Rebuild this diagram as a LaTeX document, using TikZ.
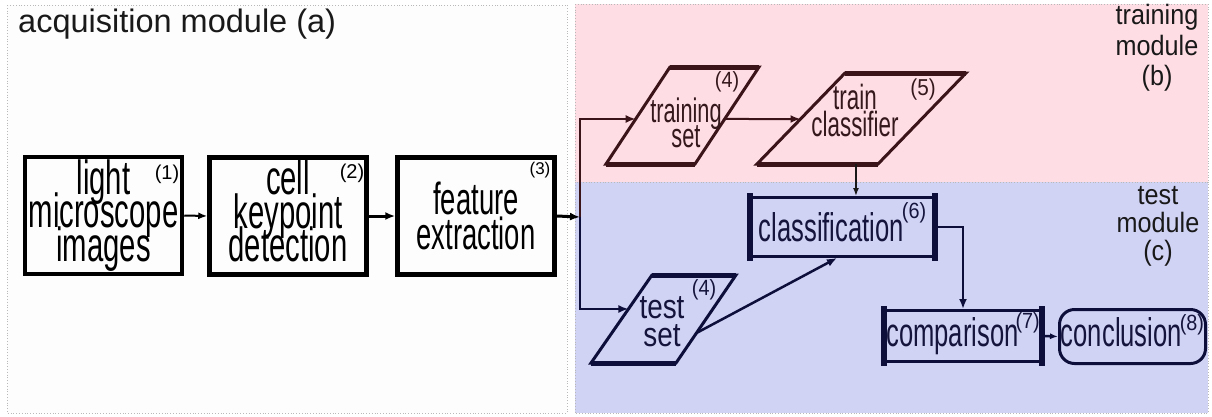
\documentclass[tikz,border=0pt]{standalone}
\usepackage{fontspec}
\setmainfont{Liberation Sans}
\newfontfamily\boxsf[FakeStretch=0.61]{Liberation Sans}
\newfontfamily\narrowsf[FakeStretch=0.64]{Liberation Sans}
\newfontfamily\midsf[FakeStretch=0.82]{Liberation Sans}
\newfontfamily\tagsf[FakeStretch=0.9]{Liberation Sans}
\usetikzlibrary{arrows.meta,calc}

% let stacked lines keep their fixed baseline distance even when glyphs touch
\newcommand\tightlines{\lineskiplimit=-100pt\relax\lineskip=0pt\relax}

\definecolor{acqbg}{RGB}{253,253,253}
\definecolor{trainbg}{RGB}{255,221,228}
\definecolor{testbg}{RGB}{209,211,245}
\definecolor{maroon}{RGB}{58,20,24}
\definecolor{maroontext}{RGB}{52,24,28}
\definecolor{navy}{RGB}{14,14,58}
\definecolor{navytext}{RGB}{20,20,60}
\definecolor{framegray}{RGB}{185,185,185}

\begin{document}
\begin{tikzpicture}[x=1pt,y=-1pt,
  region/.style={draw=framegray, dotted, line width=0.8pt},
  regionlabel/.style={inner sep=0pt, align=center, text=black!90},
  acqbox/.style={draw=black, line width=4.5pt, inner sep=0pt, align=center,
    minimum width=157pt, minimum height=117pt,
    font=\boxsf\fontsize{48}{33.5}\selectfont\tightlines},
  tagtext/.style={inner sep=0pt, font=\fontsize{20}{20}\selectfont},
  slanttext/.style={inner sep=0pt, align=center},
  testbox/.style={draw=navy, line width=3pt, inner sep=0pt, text=navytext,
    font=\narrowsf\fontsize{40}{40}\selectfont},
  tip/.style={-{Latex[length=10pt,width=8pt]}},
  smalltip/.style={-{Latex[length=8pt,width=6pt]}}
]
\useasboundingbox (0,0) rectangle (1212,416);
\fill[white] (0,0) rectangle (1212,416);

% module regions
\fill[acqbg] (7,5) rectangle (567,413);
\draw[region] (7,5) rectangle (567,413);
\fill[trainbg] (575,4) rectangle (1208,182);
\draw[region] (575,4) rectangle (1208,182);
\fill[testbg] (575,182) rectangle (1208,413);
\draw[region] (575,182) rectangle (1208,413);

\node[regionlabel, anchor=base west, font=\fontsize{32.5}{32}\selectfont]
  (acqlbl) at (18,32) {acquisition module (a)};
\node[regionlabel, font=\tagsf\fontsize{28}{30.5}\selectfont\tightlines]
  (trainlbl) at (1157,48) {training\\module\\(b)};
\node[regionlabel, font=\tagsf\fontsize{28}{28}\selectfont\tightlines]
  (testlbl) at (1158,226) {test\\module\\(c)};

% acquisition chain
\node[acqbox] (b1) at (103.5,215.5) {light\\microscope\\images\vphantom{g}};
\node[acqbox] (b2) at (288,216) {cell\\keypoint\\detection\vphantom{g}};
\node[acqbox, font=\boxsf\fontsize{45}{35}\selectfont\tightlines] (b3) at (476,216) {feature\\extraction};
\node[tagtext] (n1) at (167,174) {(1)};
\node[tagtext] (n2) at (352,173) {(2)};
\node[tagtext, font=\fontsize{17}{17}\selectfont] (n3) at (540,170) {(3)};

\draw[line width=2pt, -{Latex[length=9pt,width=7pt]}] (b1.east) -- (b2.west);
\draw[tip, line width=3pt] (b2.east) -- (b3.west);
\coordinate (sp) at (580,217);
\draw[tip, line width=3pt] (b3.east) -- (sp);

% training set
\coordinate (ts1BL) at (606,164);
\coordinate (ts1BR) at (695,164);
\coordinate (ts1TR) at (759,67);
\coordinate (ts1TL) at (670,67);
\draw[maroon, line width=3pt] (ts1BL) -- (ts1BR) -- (ts1TR) -- (ts1TL) -- cycle;
\draw[maroon, line width=5pt] (ts1BL) -- (ts1BR) (ts1TL) -- (ts1TR);
\node[slanttext, text=maroontext, font=\narrowsf\fontsize{34}{25}\selectfont\tightlines]
  (ts1txt) at (686,123) {training\\set};
\node[tagtext, text=maroontext, font=\tagsf\fontsize{22}{22}\selectfont] (n4a) at (727,82) {(4)};
\coordinate (ts1w) at ($(ts1BL)!0.464!(ts1TL)$);
\coordinate (ts1e) at ($(ts1BR)!0.464!(ts1TR)$);

% train classifier
\coordinate (tcBL) at (757,164);
\coordinate (tcBR) at (878,164);
\coordinate (tcTR) at (966,73);
\coordinate (tcTL) at (845,73);
\draw[maroon, line width=3pt] (tcBL) -- (tcBR) -- (tcTR) -- (tcTL) -- cycle;
\draw[maroon, line width=5pt] (tcBL) -- (tcBR) (tcTL) -- (tcTR);
\node[slanttext, text=maroontext, font=\narrowsf\fontsize{35}{27}\selectfont\tightlines]
  (tctxt) at (855,110.75) {train\\classifier};
\node[tagtext, text=maroontext, font=\tagsf\fontsize{23}{23}\selectfont] (n5) at (923,90) {(5)};
\coordinate (tcw) at ($(tcBL)!0.4945!(tcTL)$);
\coordinate (tcout) at ($(tcBL)!0.818!(tcBR)$);

% test set
\coordinate (ts2BL) at (591,363);
\coordinate (ts2BR) at (676,363);
\coordinate (ts2TR) at (736,275);
\coordinate (ts2TL) at (652,275);
\draw[navy, line width=3pt] (ts2BL) -- (ts2BR) -- (ts2TR) -- (ts2TL) -- cycle;
\draw[navy, line width=5pt] (ts2BL) -- (ts2BR) (ts2TL) -- (ts2TR);
\node[slanttext, text=navytext, font=\midsf\fontsize{34}{28}\selectfont\tightlines]
  (ts2txt) at (662,322) {test\\set};
\node[tagtext, text=navytext, font=\tagsf\fontsize{22}{22}\selectfont] (n4b) at (704,290) {(4)};
\coordinate (ts2w) at ($(ts2BL)!0.614!(ts2TL)$);
\coordinate (ts2e) at ($(ts2BR)!0.341!(ts2TR)$);

% test module boxes
\node[testbox, minimum width=182pt, minimum height=59pt] (cls) at (842.5,227)
  {classification\kern-2pt\raisebox{23pt}[0pt][0pt]{\tagsf\fontsize{22}{22}\selectfont(6)}};
\draw[navy, line width=6pt, line cap=rect] (cls.north west) -- (cls.south west)
  (cls.north east) -- (cls.south east);
\node[testbox, minimum width=155pt, minimum height=51pt] (cmp) at (963,336)
  {comparison\kern-3pt\raisebox{17.6pt}[0pt][0pt]{\tagsf\fontsize{22}{22}\selectfont(7)}};
\draw[navy, line width=6pt, line cap=rect] (cmp.north west) -- (cmp.south west)
  (cmp.north east) -- (cmp.south east);
\node[testbox, rounded corners=15pt, minimum width=146pt, minimum height=54pt] (concl) at (1132.5,336.5)
  {conclusion\vphantom{p}\kern-2pt\raisebox{16pt}[0pt][0pt]{\tagsf\fontsize{22}{22}\selectfont(8)}};
\coordinate (clsin) at ($(cls.south west)!0.47!(cls.south east)$);

% connectors
\draw[maroon, line width=2pt, tip] (sp) |- (ts1w);
\draw[navy, line width=2pt, tip] (sp) |- (ts2w);
\draw[maroon, line width=2pt, tip] (ts1e) -- (tcw);
\draw[black!90, line width=1.5pt, smalltip] (tcout) -- (tcout |- cls.north);
\draw[navy, line width=2.5pt, tip] (ts2e) -- (clsin);
\draw[navy, line width=2.5pt, tip] (cls.east) -| (cmp.north);
\draw[navy, line width=2.5pt, smalltip] (cmp.east) -- (concl.west);
\end{tikzpicture}
\end{document}
